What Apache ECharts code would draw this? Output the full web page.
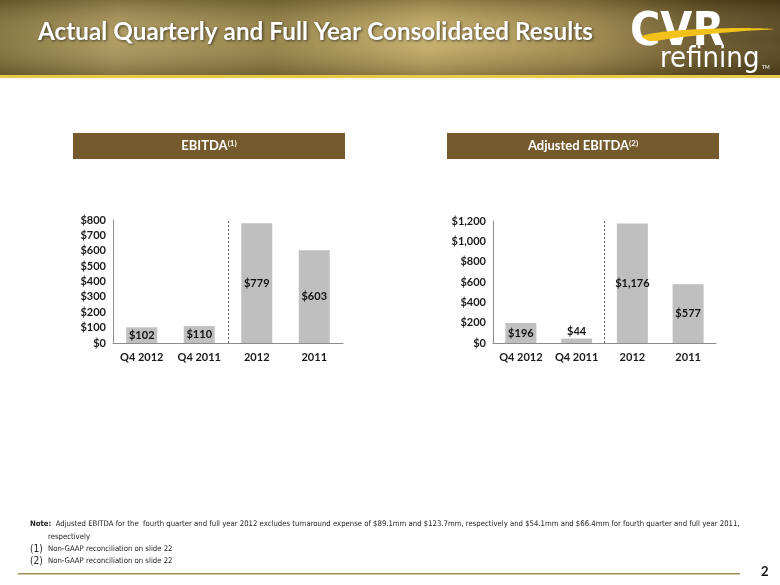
<!DOCTYPE html>
<html><head><meta charset="utf-8">
<script src="https://cdn.jsdelivr.net/npm/echarts@6/dist/echarts.min.js"></script>
<style>html,body{margin:0;padding:0;background:#fff}#c{width:780px;height:585px}</style>
</head><body><div id="c"></div>
<script>
const categories = ['Q4 2012', 'Q4 2011', '2012', '2011'];
const ebitda = [102, 110, 779, 603];
const adjustedEbitda = [196, 44, 1176, 577];
const ebitdaTicks = { min: 0, max: 800, interval: 100 };
const adjustedTicks = { min: 0, max: 1200, interval: 200 };
const dividerPosition = 1.5; // between quarterly and full-year categories

const chart = echarts.init(document.getElementById('c'), null, { renderer: 'canvas' });
const FONT = 'Lato, "Open Sans", sans-serif';
const NARROW = '"Liberation Sans Narrow", "DejaVu Sans Condensed", sans-serif';
const money = v => '$' + Number(v).toLocaleString('en-US');

function xAxisCfg(idx) {
  return {
    type: 'category', gridIndex: idx, data: categories,
    axisLine: { onZero: false, lineStyle: { color: '#8c8c8c', width: 1 } },
    axisTick: { show: false },
    axisLabel: { interval: 0, color: '#1a1a1a', fontWeight: 'bold', fontSize: 11, fontFamily: FONT, margin: 9 },
    splitLine: { show: false }
  };
}
function helperXAxis(idx) {
  return { type: 'value', gridIndex: idx, min: -0.5, max: categories.length - 0.5, show: false, position: 'top' };
}
function yAxisCfg(idx, t) {
  return {
    type: 'value', gridIndex: idx, min: t.min, max: t.max, interval: t.interval,
    axisLine: { show: true, onZero: false, lineStyle: { color: '#8c8c8c', width: 1 } },
    axisTick: { show: false },
    splitLine: { show: false },
    axisLabel: { color: '#1a1a1a', fontWeight: 'bold', fontSize: 11, fontFamily: FONT, margin: 7, formatter: money }
  };
}
function seriesCfg(idx, vals) {
  return {
    type: 'bar', xAxisIndex: idx, yAxisIndex: idx, barWidth: 31,
    itemStyle: { color: '#bfbfbf' },
    data: vals.map(v => ({
      value: v,
      label: { position: v < 80 ? 'top' : 'inside', distance: 2 }
    })),
    label: { show: true, formatter: p => money(p.value), color: '#111', fontWeight: 'bold', fontSize: 11, fontFamily: FONT },
    silent: true
  };
}
function dividerSeries(xIdx, yIdx) {
  return {
    type: 'scatter', xAxisIndex: xIdx, yAxisIndex: yIdx, data: [], silent: true,
    markLine: { symbol: 'none', silent: true, label: { show: false },
      lineStyle: { type: [2, 2], color: '#666', width: 1 },
      data: [{ xAxis: dividerPosition }] }
  };
}

const banner = (x, label, sup) => ({
  type: 'group', children: [
    { type: 'rect', shape: { x: x, y: 133, width: 272, height: 26 }, style: { fill: '#745a2d' } },
    { type: 'text', x: x + 136, y: 146, style: {
      text: '{m|' + label + '}{s|' + sup + '}', align: 'center', verticalAlign: 'middle',
      rich: {
        m: { fill: '#fff', fontWeight: 'bold', fontSize: 13, fontFamily: FONT },
        s: { fill: '#fff', fontWeight: 'bold', fontSize: 8, fontFamily: FONT, verticalAlign: 'top', padding: [0, 0, 6, 0] }
      } } }
  ]
});

chart.setOption({
  animation: false,
  grid: [
    { left: 113, top: 220, width: 230, height: 123 },
    { left: 493, top: 221, width: 223, height: 122 }
  ],
  xAxis: [xAxisCfg(0), xAxisCfg(1), helperXAxis(0), helperXAxis(1)],
  yAxis: [yAxisCfg(0, ebitdaTicks), yAxisCfg(1, adjustedTicks)],
  series: [seriesCfg(0, ebitda), seriesCfg(1, adjustedEbitda), dividerSeries(2, 0), dividerSeries(3, 1)],
  graphic: [
    { type: 'rect', z: -10, shape: { x: 0, y: 0, width: 780, height: 76 },
      style: { fill: new echarts.graphic.LinearGradient(0, 0, 1, 0.3, [
        { offset: 0, color: '#7a6a34' }, { offset: 0.15, color: '#a8945a' },
        { offset: 0.35, color: '#8c7a40' }, { offset: 0.55, color: '#c2ab68' },
        { offset: 0.75, color: '#9a8448' }, { offset: 0.9, color: '#5e4c22' },
        { offset: 1, color: '#4a3a18' }]) } },
    { type: 'rect', z: -9, shape: { x: 0, y: 0, width: 780, height: 76 },
      style: { fill: new echarts.graphic.LinearGradient(0, 0, 0, 1, [
        { offset: 0, color: 'rgba(60,45,15,0.35)' }, { offset: 0.5, color: 'rgba(255,240,190,0.1)' },
        { offset: 1, color: 'rgba(60,45,15,0.35)' }]) } },
    { type: 'rect', shape: { x: 0, y: 75, width: 780, height: 3 }, style: { fill: '#e6c84a' } },
    { type: 'text', x: 38, y: 32, style: { text: 'Actual Quarterly and Full Year Consolidated Results',
      fill: '#fff', fontSize: 24.3, fontWeight: 'bold', fontFamily: FONT, verticalAlign: 'middle',
      textShadowColor: 'rgba(0,0,0,0.6)', textShadowBlur: 3, textShadowOffsetX: 1, textShadowOffsetY: 1 } },
    // logo
    { type: 'text', x: 630, y: 33, style: { text: 'CVR', fill: '#fff', fontSize: 46, fontWeight: 'bold',
      fontFamily: NARROW, verticalAlign: 'middle' } },
    { type: 'polygon', z: 20, shape: { points: [[642, 36], [670, 31], [705, 29], [740, 28], [774, 29], [745, 31], [710, 34], [675, 38], [650, 41]], smooth: 0.3 }, style: { fill: '#f2c21b' } },
    { type: 'text', x: 660, y: 59, style: { text: 'refining', fill: '#fff', fontSize: 29,
      fontFamily: NARROW, verticalAlign: 'middle' } },
    { type: 'text', x: 762, y: 65, style: { text: 'TM', fill: '#fff', fontSize: 5, fontFamily: FONT } },
    banner(73, 'EBITDA', '(1)'),
    banner(447, 'Adjusted EBITDA', '(2)'),
    // notes
    { type: 'text', x: 30, y: 524, style: { text: '{b|Note:}  Adjusted EBITDA for the  fourth quarter and full year 2012 excludes turnaround expense of $89.1mm and $123.7mm, respectively and $54.1mm and $66.4mm for fourth quarter and full year 2011,',
      verticalAlign: 'middle', fill: '#222', fontSize: 7.7, fontFamily: NARROW,
      rich: { b: { fontWeight: 'bold', fontSize: 7.7, fontFamily: NARROW, fill: '#222' } } } },
    { type: 'text', x: 48, y: 537, style: { text: 'respectively', verticalAlign: 'middle', fill: '#222', fontSize: 7.7, fontFamily: NARROW } },
    { type: 'text', x: 30, y: 549, style: { text: '(1)', verticalAlign: 'middle', fill: '#222', fontSize: 10, fontFamily: NARROW } },
    { type: 'text', x: 48, y: 549, style: { text: 'Non-GAAP reconciliation on slide 22', verticalAlign: 'middle', fill: '#222', fontSize: 7.7, fontFamily: NARROW } },
    { type: 'text', x: 30, y: 561, style: { text: '(2)', verticalAlign: 'middle', fill: '#222', fontSize: 10, fontFamily: NARROW } },
    { type: 'text', x: 48, y: 561, style: { text: 'Non-GAAP reconciliation on slide 22', verticalAlign: 'middle', fill: '#222', fontSize: 7.7, fontFamily: NARROW } },
    { type: 'rect', shape: { x: 18, y: 573, width: 722, height: 1.5 }, style: { fill: '#a38f5e' } },
    { type: 'text', x: 761, y: 572, style: { text: '2', verticalAlign: 'middle', fill: '#111', fontSize: 13, fontWeight: 'bold', fontFamily: FONT } }
  ]
});
</script></body></html>
